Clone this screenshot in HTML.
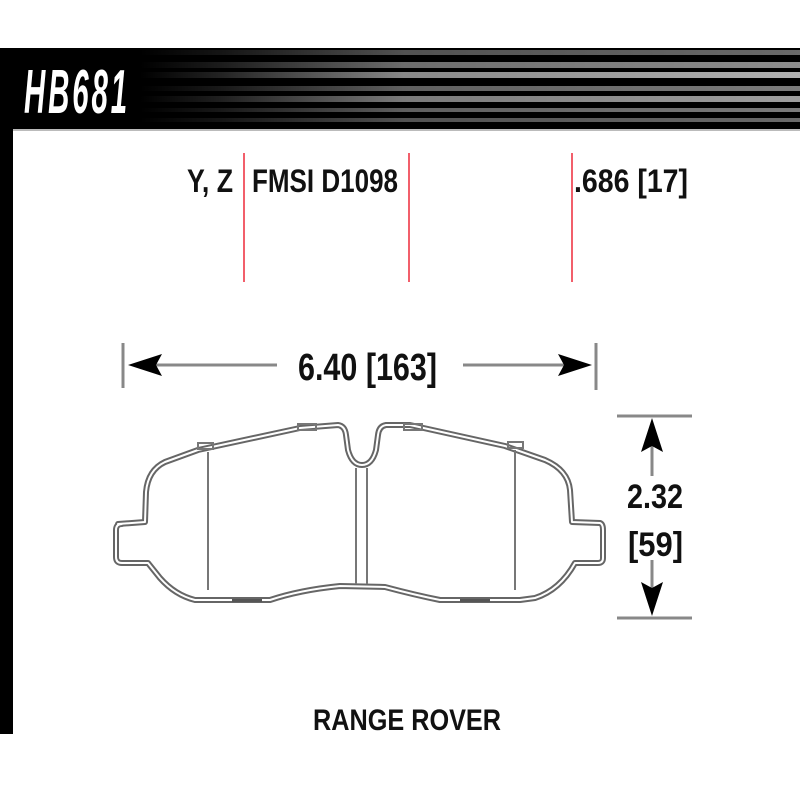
<!DOCTYPE html>
<html><head><meta charset="utf-8"><style>
html,body{margin:0;padding:0;background:#fff;width:800px;height:800px;overflow:hidden}
svg{display:block}
text{font-family:"Liberation Sans Narrow","Liberation Sans",sans-serif;font-weight:bold;fill:#111}
</style></head><body>
<svg width="800" height="800" viewBox="0 0 800 800" xmlns="http://www.w3.org/2000/svg">
<defs>
<linearGradient id="g" x1="0" x2="1" y1="0" y2="0">
<stop offset="0" stop-color="#000"/><stop offset="0.12" stop-color="#222"/><stop offset="0.4" stop-color="#888"/><stop offset="1" stop-color="#b0b0b0"/>
</linearGradient>
</defs>
<rect x="0" y="48" width="800" height="82" fill="#000"/>
<g fill="url(#g)">
<rect x="140" y="50" width="660" height="5" opacity="0.6"/>
<rect x="140" y="62" width="660" height="6" opacity="0.8"/>
<rect x="140" y="72" width="660" height="6" opacity="1"/>
<rect x="140" y="86" width="660" height="5" opacity="0.7"/>
<rect x="140" y="96" width="660" height="6" opacity="0.9"/>
<rect x="140" y="108" width="660" height="4" opacity="0.7"/>
<rect x="140" y="118" width="660" height="4" opacity="0.6"/>
</g>
<rect x="0" y="48" width="13" height="686" fill="#000"/>
<rect x="13" y="129" width="787" height="2" fill="#bbb"/>
<text x="24" y="113" font-size="62" style="fill:#fff;font-style:italic" textLength="106" lengthAdjust="spacingAndGlyphs" letter-spacing="6">HB681</text>

<g stroke="#ee2a3a" stroke-width="1.5">
<line x1="244" y1="153" x2="244" y2="282"/>
<line x1="409" y1="153" x2="409" y2="282"/>
<line x1="572" y1="153" x2="572" y2="282"/>
</g>
<text x="187" y="192" font-size="32" textLength="46" lengthAdjust="spacingAndGlyphs">Y, Z</text>
<text x="252" y="192" font-size="32" textLength="146" lengthAdjust="spacingAndGlyphs">FMSI D1098</text>
<text x="574" y="192" font-size="32" textLength="114" lengthAdjust="spacingAndGlyphs">.686 [17]</text>

<g stroke="#888" stroke-width="3">
<line x1="123" y1="343" x2="123" y2="388"/>
<line x1="596" y1="343" x2="596" y2="390"/>
<line x1="150" y1="365" x2="277" y2="365"/>
<line x1="463" y1="365" x2="575" y2="365"/>
<line x1="617" y1="416" x2="692" y2="416"/>
<line x1="617" y1="618" x2="692" y2="618"/>
<line x1="652" y1="440" x2="652" y2="476"/>
<line x1="652" y1="560" x2="652" y2="595"/>
</g>
<polygon points="128,365 162,354 156,365 162,376" fill="#000"/>
<polygon points="592,365 558,354 564,365 558,376" fill="#000"/>
<polygon points="652,418 641,452 652,446 663,452" fill="#000"/>
<polygon points="652,616 641,582 652,588 663,582" fill="#000"/>
<text x="298" y="380" font-size="38" textLength="139" lengthAdjust="spacingAndGlyphs">6.40 [163]</text>
<text x="627" y="508" font-size="34" textLength="56" lengthAdjust="spacingAndGlyphs">2.32</text>
<text x="628" y="556" font-size="34" textLength="55" lengthAdjust="spacingAndGlyphs">[59]</text>

<g fill="none" stroke-linejoin="round">
<path d="M118,524 L145,522 L146,492 Q148,470 165,462 L198,450 L300,428 L338,425 Q345,426 346,435 L348,450 Q352,465 362,465 Q372,465 376,450 L378,435 Q379,426 386,425 L410,425 L505,446 L545,460 Q568,470 570,490 L572,522 L600,523 Q603,524 603,530 L603,558 Q603,563 598,563 L575,563 Q560,590 535,598 L520,600 L440,600 Q415,595 385,587 L340,586 Q300,590 270,600 L195,600 Q175,595 160,578 L148,563 L122,563 Q116,563 116,557 L116,530 Q116,524 122,524 Z" stroke="#666" stroke-width="6"/>
<path d="M118,524 L145,522 L146,492 Q148,470 165,462 L198,450 L300,428 L338,425 Q345,426 346,435 L348,450 Q352,465 362,465 Q372,465 376,450 L378,435 Q379,426 386,425 L410,425 L505,446 L545,460 Q568,470 570,490 L572,522 L600,523 Q603,524 603,530 L603,558 Q603,563 598,563 L575,563 Q560,590 535,598 L520,600 L440,600 Q415,595 385,587 L340,586 Q300,590 270,600 L195,600 Q175,595 160,578 L148,563 L122,563 Q116,563 116,557 L116,530 Q116,524 122,524 Z" stroke="#fff" stroke-width="2"/>
</g>
<g stroke="#777" stroke-width="2" fill="none">
<line x1="208" y1="452" x2="208" y2="590"/>
<line x1="515" y1="450" x2="515" y2="590"/>
<line x1="356" y1="468" x2="356" y2="584"/>
<line x1="367" y1="468" x2="367" y2="584"/>
<rect x="198" y="443" width="15" height="6"/>
<rect x="298" y="424" width="18" height="6"/>
<rect x="404" y="424" width="18" height="6"/>
<rect x="508" y="442" width="15" height="6"/>
</g>
<rect x="232" y="599" width="30" height="3" fill="#555"/>
<rect x="460" y="599" width="30" height="3" fill="#555"/>

<text x="313" y="730" font-size="30" textLength="188" lengthAdjust="spacingAndGlyphs">RANGE ROVER</text>
</svg>
</body></html>
